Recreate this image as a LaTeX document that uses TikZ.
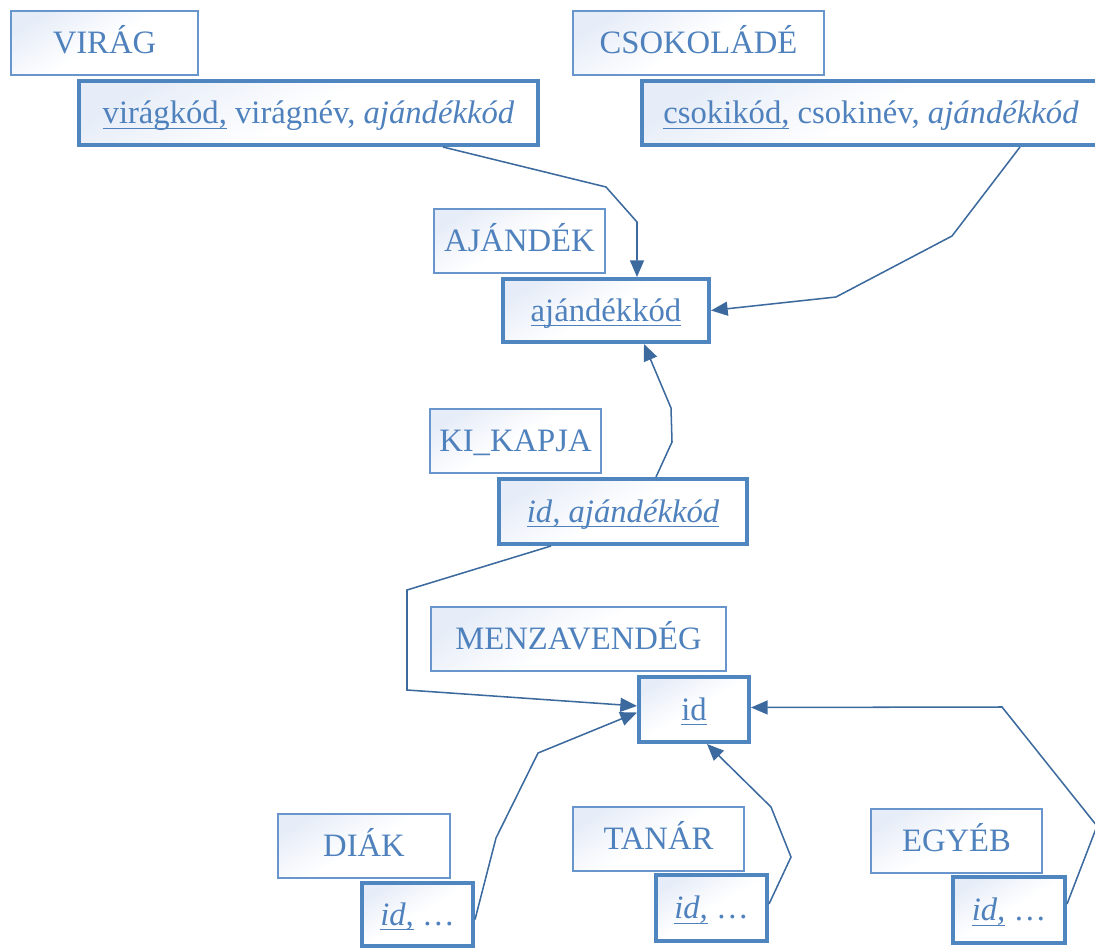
\documentclass[tikz,border=0pt]{standalone}
\usepackage{fontspec}
\setmainfont{Liberation Serif}
\usetikzlibrary{arrows.meta,calc}
\definecolor{ink}{RGB}{79,129,189}
\definecolor{thinrule}{RGB}{104,150,204}
\definecolor{thickrule}{RGB}{79,134,191}
\definecolor{wire}{RGB}{60,106,158}
\definecolor{wash}{RGB}{231,237,248}
% underline at a fixed depth below the baseline
\newcommand\ulx[1]{\setbox0\hbox{#1}\rlap{\rule[-3.5pt]{\wd0}{0.8pt}}\box0\relax}
\begin{document}
\begin{tikzpicture}[x=0.75pt,y=-0.75pt,
  every node/.style={font=\fontsize{24.5}{28}\selectfont, text=ink, inner sep=0pt,
    text height=17.6pt, text depth=1.2pt},
  namebox/.style={draw=thinrule, line width=1.5pt, top color=wash, bottom color=white, middle color=white, shading angle=30},
  keybox/.style={draw=thickrule, line width=3pt, top color=wash, bottom color=white, middle color=white, shading angle=30},
  sz/.style 2 args={minimum width=#1*0.75pt, minimum height=#2*0.75pt},
  link/.style={draw=wire, line width=1.15pt, line join=miter, -{Triangle[length=12.5pt,width=10.5pt]}}]
\useasboundingbox (0,0) rectangle (1095,949);

% relation names and their key boxes
\node[namebox, sz={187}{64}] (virag) at (104.5,43) {VIRÁG};
\node[keybox, sz={459}{64}] (viragA) at (308.5,113) {\ulx{virágkód,} virágnév, \textit{ajándékkód}};
\node[namebox, sz={251}{64}] (csoki) at (698.5,43) {CSOKOLÁDÉ};
\node[keybox, sz={458}{64}] (csokiA) at (871,113) {\ulx{csokikód,} csokinév, \textit{ajándékkód}};
\node[namebox, sz={171}{64}] (ajandek) at (519.5,241) {AJÁNDÉK};
\node[keybox, sz={206}{63}] (ajA) at (606,310.5) {\ulx{ajándékkód}};
\node[namebox, sz={171}{64}] (kikapja) at (515.5,441) {KI\_KAPJA};
\node[keybox, sz={248}{65}] (kiA) at (623,511.5) {\textit{\ulx{id, ajándékkód}}};
\node[namebox, sz={295}{64}] (menza) at (578.5,639) {MENZAVENDÉG};
\node[keybox, sz={110}{65}] (menzaA) at (694,709.5) {\ulx{id}};
\node[namebox, sz={172}{64}] (diak) at (364,846) {DIÁK};
\node[keybox, sz={111}{63}] (diakA) at (417.5,914.5) {\textit{\ulx{id,}} …};
\node[namebox, sz={171}{64}] (tanar) at (658.5,839) {TANÁR};
\node[keybox, sz={111}{66}] (tanarA) at (711.5,908) {\textit{\ulx{id,}} …};
\node[namebox, sz={171}{64}] (egyeb) at (956.5,841) {EGYÉB};
\node[keybox, sz={112}{66}] (egyebA) at (1009,910) {\textit{\ulx{id,}} …};

% foreign key references
\draw[link] ($(viragA.south)+(134.5,0)$) -- (606,187) -- (637,222) -- ($(ajA.north)+(31,0)$);
\draw[link] ($(csokiA.south)+(149,0)$) -- (952,236) -- (836,297) -- (ajA.east);
\draw[link] ($(kiA.north)+(33,0)$) -- (672,442) -- (671,408) -- ($(ajA.south)+(38,0)$);
\draw[link] ($(kiA.south)+(-72,0)$) -- (407,590) -- (407,690) -- ($(menzaA.west)+(0,-3.5)$);
\draw[link] ($(diakA.east)+(0,5)$) -- (496,838) -- (538,753) -- ($(menzaA.west)+(0,3)$);
\draw[link] ($(tanarA.east)+(0,-4)$) -- (791,857) -- (771,807) -- ($(menzaA.south)+(13,0)$);
\draw[link] ($(egyebA.east)+(0,-6)$) -- (1097,826) -- (1002,707) -- ($(menzaA.east)+(0,-2)$);
\end{tikzpicture}
\end{document}
